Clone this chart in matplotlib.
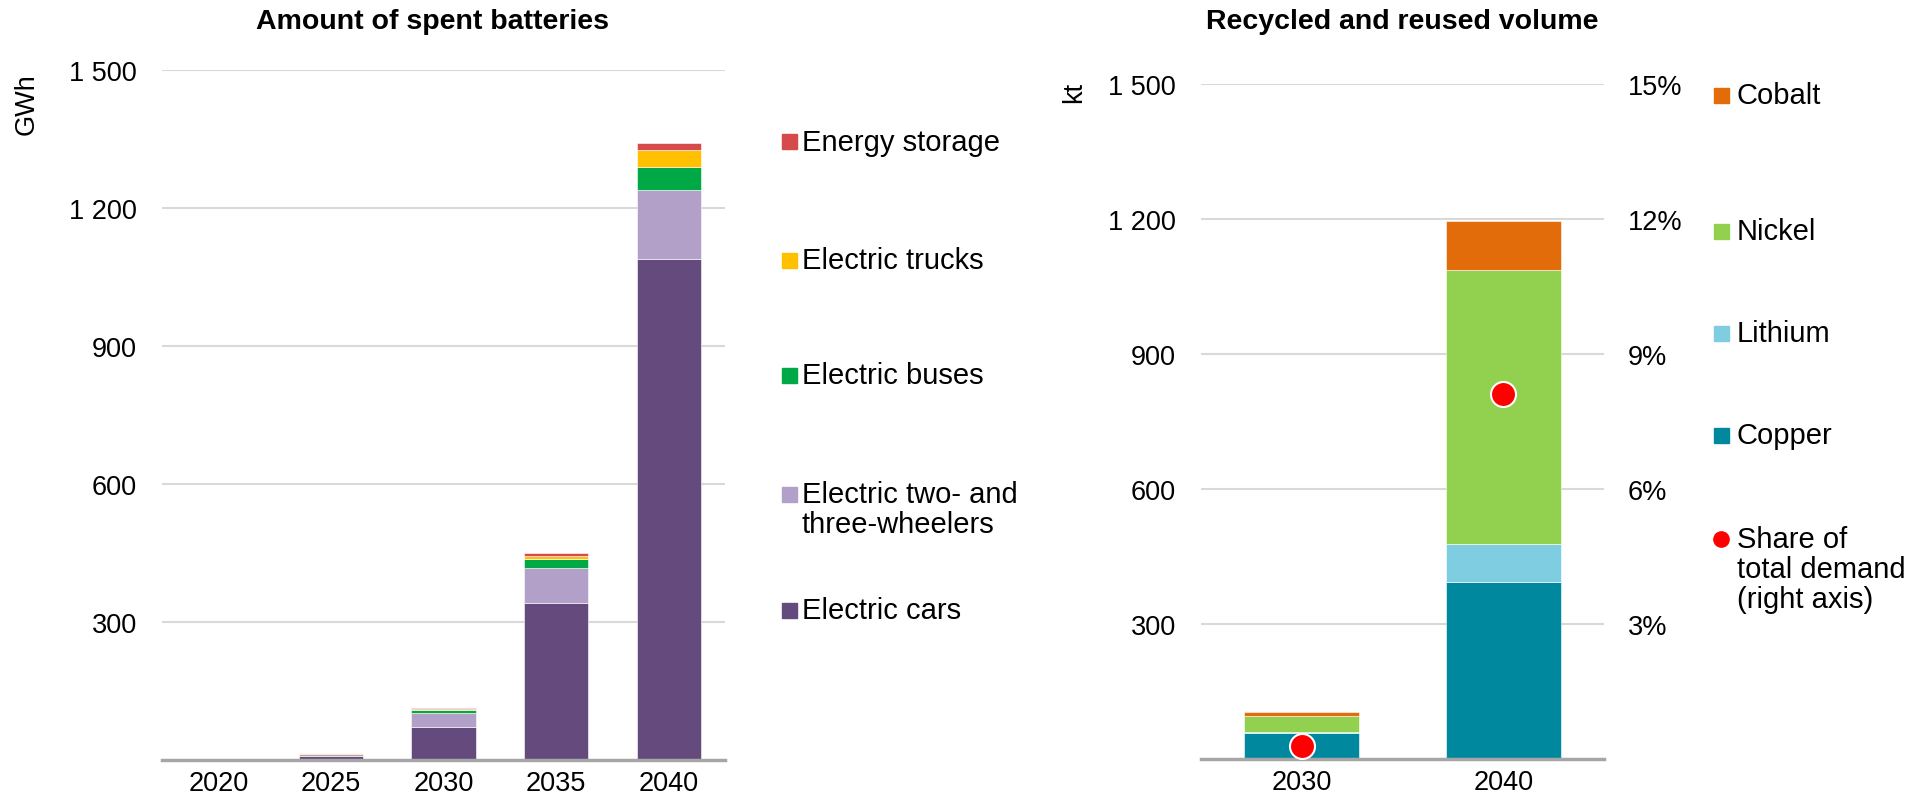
import numpy as np
import matplotlib
matplotlib.use("Agg")
from matplotlib import pyplot as plt
from matplotlib.patches import Rectangle
from matplotlib.lines import Line2D

plt.rcParams['font.family'] = ['Liberation Sans', 'DejaVu Sans']

# left chart: spent batteries, GWh
years = ['2020', '2025', '2030', '2035', '2040']
cars = [1.5, 8, 72, 342, 1090]
two_three = [0.5, 4, 30, 75, 150]
buses = [0.3, 2, 7, 20, 50]
trucks = [0.1, 1, 1.5, 7, 37]
storage = [0.3, 1, 1.5, 6, 14]
left_labels = ['Electric cars', 'Electric two- and\nthree-wheelers', 'Electric buses',
               'Electric trucks', 'Energy storage']
left_colors = ['#644A7D', '#B3A0C9', '#00A846', '#FFC000', '#D64A4B']

# right chart: recycled and reused volume, kt
years_r = ['2030', '2040']
copper = [58, 394]
lithium = [3, 84]
nickel = [34, 609]
cobalt = [9, 109]
share = [0.003, 0.081]
right_labels = ['Copper', 'Lithium', 'Nickel', 'Cobalt']
right_colors = ['#00889E', '#7FCDE0', '#92D050', '#E36C0A']

GRID = '#D9D9D9'
AXIS = '#A6A6A6'
FS = 19.5
LEG_FS = 21
BAR_W = 0.57


def style_axes(ax):
    for s in ax.spines.values():
        s.set_visible(False)
    ax.spines['bottom'].set_visible(True)
    ax.spines['bottom'].set_color(AXIS)
    ax.spines['bottom'].set_linewidth(2.5)
    ax.yaxis.grid(True, color=GRID, linewidth=1.5)
    ax.set_axisbelow(True)
    ax.tick_params(axis='both', length=0, labelsize=FS)
    ax.tick_params(axis='x', pad=7)
    ax.tick_params(axis='y', pad=18)


def fmt_thousands(v):
    return '{:,}'.format(int(v)).replace(',', ' ')


fig = plt.figure(figsize=(19.28, 8.03), dpi=100)

# ---- left chart
ax1 = fig.add_axes([162 / 1928, 0.0523, 563 / 1928, 0.859])
x = np.arange(len(years))
bottom = np.zeros(len(years))
for vals, col in zip([cars, two_three, buses, trucks, storage], left_colors):
    ax1.bar(x, vals, BAR_W, bottom=bottom, color=col, edgecolor='white', linewidth=0.4)
    bottom += np.array(vals)
ax1.set_xlim(-0.5, len(years) - 0.5)
ax1.set_ylim(0, 1500)
ax1.set_yticks([300, 600, 900, 1200, 1500])
ax1.set_yticklabels([fmt_thousands(v) for v in [300, 600, 900, 1200, 1500]])
ax1.set_xticks(x)
ax1.set_xticklabels(years)
style_axes(ax1)
fig.text(27 / 1928, 0.87, 'GWh', rotation=90, fontsize=FS, ha='center', va='center')
fig.text(432 / 1928, 0.972, 'Amount of spent batteries', fontsize=20.5, fontweight='bold',
         ha='center', va='center')

# ---- right chart
ax2 = fig.add_axes([1201 / 1928, 0.0535, 403 / 1928, 0.8409])
xr = np.arange(len(years_r))
bottom = np.zeros(len(years_r))
for vals, col in zip([copper, lithium, nickel, cobalt], right_colors):
    ax2.bar(xr, vals, BAR_W, bottom=bottom, color=col, edgecolor='white', linewidth=0.4)
    bottom += np.array(vals)
ax2.set_xlim(-0.5, len(years_r) - 0.5)
ax2.set_ylim(0, 1500)
ax2.set_yticks([300, 600, 900, 1200, 1500])
ax2.set_yticklabels([fmt_thousands(v) for v in [300, 600, 900, 1200, 1500]])
ax2.set_xticks(xr)
ax2.set_xticklabels(years_r)
style_axes(ax2)

ax3 = ax2.twinx()
ax3.set_ylim(0, 0.15)
ax3.set_yticks([0.03, 0.06, 0.09, 0.12, 0.15])
ax3.set_yticklabels(['3%', '6%', '9%', '12%', '15%'])
for s in ax3.spines.values():
    s.set_visible(False)
ax3.tick_params(axis='y', length=0, labelsize=FS, pad=17)
ax3.plot(xr, share, linestyle='none', marker='o', markersize=18,
         markerfacecolor='#FF0000', markeredgecolor='white', markeredgewidth=1.5)
fig.text(1074 / 1928, 0.885, 'kt', rotation=90, fontsize=FS, ha='center', va='center')
fig.text(1402 / 1928, 0.972, 'Recycled and reused volume', fontsize=20.5, fontweight='bold',
         ha='center', va='center')

# ---- legends (manual placement)
W, H = 1928.0, 803.0


def legend_square(px, py, col):
    s = 15
    fig.add_artist(Rectangle(((px - s / 2) / W, 1 - (py + s / 2) / H), s / W, s / H,
                             transform=fig.transFigure, color=col))


left_pos = {'Energy storage': 142.6, 'Electric trucks': 261, 'Electric buses': 376,
            'Electric two- and\nthree-wheelers': 495, 'Electric cars': 611}
for lab, col in zip(left_labels, left_colors):
    py = left_pos[lab]
    legend_square(789, py, col)
    fig.text(802 / W, 1 - (py - 14) / H, lab, fontsize=LEG_FS, ha='left', va='top',
             linespacing=1.08)

right_pos = {'Cobalt': 96, 'Nickel': 232, 'Lithium': 334.5, 'Copper': 436.5}
for lab, col in zip(right_labels, right_colors):
    py = right_pos[lab]
    legend_square(1721, py, col)
    fig.text(1737 / W, 1 - (py - 14) / H, lab, fontsize=LEG_FS, ha='left', va='top')

fig.add_artist(Line2D([1721 / W], [1 - 540 / H], transform=fig.transFigure, marker='o',
                      markersize=11, markerfacecolor='#FF0000', markeredgecolor='#FF0000',
                      linestyle='none'))
fig.text(1737 / W, 1 - (540 - 14) / H, 'Share of\ntotal demand\n(right axis)', fontsize=LEG_FS,
         ha='left', va='top', linespacing=1.08)

fig.savefig('out.png', dpi=100)
